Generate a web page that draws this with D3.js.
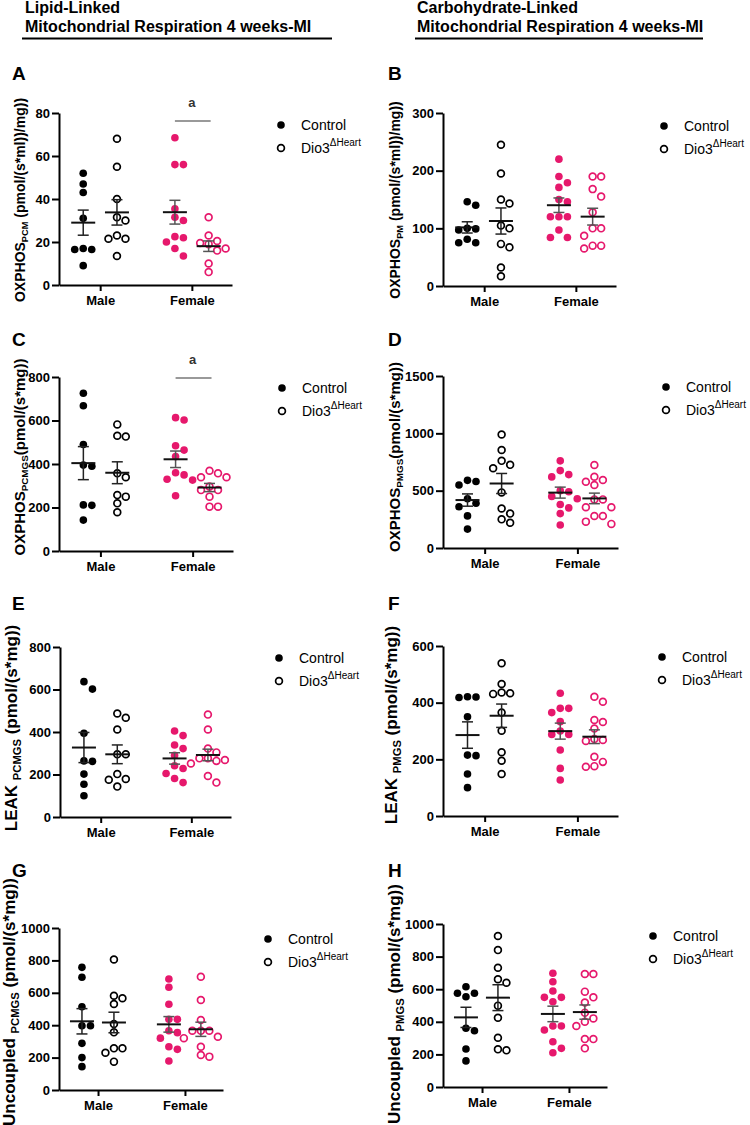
<!DOCTYPE html>
<html>
<head>
<meta charset="utf-8">
<style>
  body { margin: 0; background: #fff; }
  text { font-family: Arial, "Liberation Sans", sans-serif; }
</style>
</head>
<body>
<script src="https://d3js.org/d3.v7.min.js"></script>
<script>

const width = 750;
const height = 1125;
const pink = '#e6186c';

const groupNames = ['Male', 'Female'];
const seriesNames = ['Control', 'Dio3'];

// each panel: [male control, male Dio3, female control, female Dio3]
const dataA = [
  [52, 47, 43, 31, 17, 16.5, 16.5, 9],
  [68, 55, 40, 31.5, 30, 23, 21.5, 21.5, 13.5],
  [68.5, 56, 56, 35.5, 31.5, 30, 22.5, 22, 20, 17, 13.5],
  [31.5, 23, 20.5, 19.5, 19, 17, 16, 10, 6]
];
const dataB = [
  [146, 140, 100, 99, 97, 81, 75, 75],
  [245, 195, 150, 143, 105, 100, 73, 67, 32, 17],
  [220, 190, 179, 171, 150, 146, 120, 120, 120, 97, 84, 84],
  [190, 190, 168, 155, 128, 100, 100, 87, 70, 70, 65]
];
const dataC = [
  [725, 668, 490, 395, 390, 212, 210, 142],
  [582, 530, 526, 357, 339, 257, 250, 219, 178],
  [613, 602, 484, 464, 434, 360, 350, 330, 326, 254],
  [369, 357, 339, 339, 296, 280, 280, 250, 204, 204]
];
const dataD = [
  [590, 580, 550, 430, 390, 360, 280, 165],
  [990, 855, 760, 725, 695, 485, 345, 300, 250, 220],
  [760, 675, 640, 620, 500, 490, 450, 430, 380, 350, 300, 200],
  [724, 622, 593, 578, 549, 424, 424, 355, 355, 279, 279, 230, 210]
];
const dataE = [
  [637, 602, 394, 264, 262, 202, 154, 100],
  [487, 467, 412, 295, 295, 202, 179, 175, 143],
  [405, 383, 339, 322, 290, 241, 228, 205, 181, 162],
  [482, 412, 322, 304, 276, 276, 268, 264, 252, 193, 162]
];
const dataF = [
  [421, 420, 418, 350, 215, 213, 148, 100],
  [539, 466, 436, 433, 431, 365, 301, 225, 195, 148],
  [433, 380, 380, 365, 333, 300, 288, 288, 233, 168, 127],
  [421, 403, 339, 332, 309, 272, 268, 265, 209, 191, 176, 174]
];
const dataG = [
  [757, 696, 514, 397, 397, 288, 200, 144],
  [806, 582, 566, 531, 407, 356, 257, 257, 230, 175],
  [685, 634, 529, 436, 436, 366, 354, 320, 267, 251, 179],
  [699, 556, 432, 366, 366, 366, 329, 320, 267, 216, 206]
];
const dataH = [
  [615, 575, 575, 554, 360, 345, 233, 160],
  [926, 840, 732, 661, 640, 499, 425, 302, 231, 225],
  [698, 646, 589, 550, 550, 523, 374, 374, 350, 278, 237, 210],
  [693, 693, 585, 550, 518, 456, 421, 401, 374, 294, 294, 237]
];

const ticksA = [0, 20, 40, 60, 80];
const ticksB = [0, 100, 200, 300];
const ticksC = [0, 200, 400, 600, 800];
const ticksD = [0, 500, 1000, 1500];
const ticksE = [0, 200, 400, 600, 800];
const ticksF = [0, 200, 400, 600];
const ticksG = [0, 200, 400, 600, 800, 1000];
const ticksH = [0, 200, 400, 600, 800, 1000];

const labelA = ['OXPHOS', 'PCM', ' (pmol/(s*ml))/mg))'];
const labelB = ['OXPHOS', 'PM', ' (pmol/(s*ml))/mg))'];
const labelC = ['OXPHOS', 'PCMGS', '(pmol/(s*mg))'];
const labelD = ['OXPHOS', 'PMGS', '(pmol/(s*mg))'];
const labelE = ['LEAK ', 'PCMGS', ' (pmol/(s*mg))'];
const labelF = ['LEAK ', 'PMGS', ' (pmol/(s*mg))'];
const labelG = ['Uncoupled ', 'PCMGS', ' (pmol/(s*mg))'];
const labelH = ['Uncoupled ', 'PMGS', ' (pmol/(s*mg))'];

// relative positions along x axis
const groupPos = [0.14, 0.335, 0.67, 0.865];
const tickPos = [0.238, 0.768];

const panels = [
  {id: 'A', data: dataA, ticks: ticksA, label: labelA, x0: 59, x1: 232, yTop: 113, yBot: 285, letterY: 80, lx: 281, ly: 125, labX: 25, labY: 200, labSize: 14, sig: [103, 121]},
  {id: 'B', data: dataB, ticks: ticksB, label: labelB, x0: 443, x1: 616, yTop: 113, yBot: 286, letterY: 80, lx: 664, ly: 126, labX: 400, labY: 200, labSize: 14},
  {id: 'C', data: dataC, ticks: ticksC, label: labelC, x0: 59, x1: 233, yTop: 377, yBot: 551, letterY: 346, lx: 282, ly: 388, labX: 25, labY: 457, labSize: 15, sig: [360, 378]},
  {id: 'D', data: dataD, ticks: ticksD, label: labelD, x0: 443, x1: 618, yTop: 376, yBot: 548, letterY: 346, lx: 666, ly: 387, labX: 400, labY: 457, labSize: 15},
  {id: 'E', data: dataE, ticks: ticksE, label: labelE, x0: 60, x1: 231, yTop: 647, yBot: 817, letterY: 610, lx: 279, ly: 658, labX: 17, labY: 728, labSize: 17},
  {id: 'F', data: dataF, ticks: ticksF, label: labelF, x0: 443, x1: 618, yTop: 646, yBot: 816, letterY: 610, lx: 662, ly: 657, labX: 397, labY: 725, labSize: 17},
  {id: 'G', data: dataG, ticks: ticksG, label: labelG, x0: 59, x1: 223, yTop: 928, yBot: 1090, letterY: 877, lx: 268, ly: 939, labX: 15, labY: 1002, labSize: 17},
  {id: 'H', data: dataH, ticks: ticksH, label: labelH, x0: 443, x1: 607, yTop: 924, yBot: 1087, letterY: 877, lx: 653, ly: 936, labX: 400, labY: 1004, labSize: 17}
];

const svg = d3.select('body')
  .append('svg')
  .attr('width', width)
  .attr('height', height);

// column titles
const titles = [
  {x: 25, lines: ['Lipid-Linked', 'Mitochondrial Respiration 4 weeks-MI'], u0: 22, u1: 332},
  {x: 417, lines: ['Carbohydrate-Linked', 'Mitochondrial Respiration 4 weeks-MI'], u0: 415, u1: 703}
];
titles.forEach(t => {
  t.lines.forEach((s, i) => {
    svg.append('text').attr('x', t.x).attr('y', 13 + i * 19)
      .style('font-size', '16px').style('font-weight', 'bold').text(s);
  });
  svg.append('line').attr('x1', t.u0).attr('x2', t.u1).attr('y1', 38.5).attr('y2', 38.5)
    .attr('stroke', '#000').attr('stroke-width', 2);
});

const r = 3.8;

function swarm(values, cx, y) {
  const sorted = values.slice().sort((a, b) => b - a);
  const placed = [];
  const slots = [0, 1, -1, 2, -2, 3, -3];
  sorted.forEach(v => {
    const py = y(v);
    for (const k of slots) {
      const px = cx + k * 8.5;
      if (placed.every(p => Math.hypot(p.x - px, p.y - py) >= 2 * r + 0.5)) {
        placed.push({x: px, y: py, v: v});
        break;
      }
    }
  });
  return placed;
}

panels.forEach(p => {
  const g = svg.append('g');
  const x = d3.scaleLinear().domain([0, 1]).range([p.x0, p.x1]);
  const y = d3.scaleLinear().domain([0, d3.max(p.ticks)]).range([p.yBot, p.yTop]);

  // panel letter
  const letterX = p.x0 < 300 ? 12 : 388;
  g.append('text').attr('x', letterX).attr('y', p.letterY)
    .style('font-size', '19px').style('font-weight', 'bold').text(p.id);

  // axes
  const yAxis = g.append('g').attr('transform', `translate(${p.x0},0)`)
    .call(d3.axisLeft(y).tickValues(p.ticks).tickFormat(d3.format('d'))
      .tickSize(7).tickPadding(2).tickSizeOuter(0));
  const xAxis = g.append('g').attr('transform', `translate(0,${p.yBot})`)
    .call(d3.axisBottom(x).tickValues(tickPos).tickFormat((d, i) => groupNames[i])
      .tickSize(6).tickPadding(5).tickSizeOuter(0));
  [yAxis, xAxis].forEach(a => {
    a.attr('font-size', 13).attr('font-weight', 'bold')
      .attr('font-family', 'Arial, "Liberation Sans", sans-serif');
    a.select('.domain').attr('stroke-width', 2);
    a.selectAll('.tick line').attr('stroke-width', 2);
    a.selectAll('.tick text').attr('fill', '#000');
  });

  // y label
  const lab = g.append('text')
    .attr('transform', `translate(${p.labX},${p.labY}) rotate(-90)`)
    .attr('text-anchor', 'middle')
    .style('font-size', p.labSize + 'px').style('font-weight', 'bold');
  lab.append('tspan').text(p.label[0]);
  lab.append('tspan').attr('dy', p.labSize * 0.22).style('font-size', (p.labSize * 0.66) + 'px').text(p.label[1]);
  lab.append('tspan').attr('dy', -p.labSize * 0.22).text(p.label[2]);

  // points
  p.data.forEach((vals, gi) => {
    const color = gi < 2 ? '#000' : pink;
    const open = gi % 2 === 1;
    const cx = x(groupPos[gi]);
    const pts = swarm(vals, cx, y);
    g.selectAll(null).data(pts).enter().append('circle')
      .attr('cx', d => d.x).attr('cy', d => d.y)
      .attr('r', open ? r - 0.4 : r)
      .attr('fill', open ? 'none' : color)
      .attr('stroke', open ? color : 'none')
      .attr('stroke-width', open ? 1.7 : 0);

    const mean = d3.mean(vals);
    const sem = d3.deviation(vals) / Math.sqrt(vals.length);
    const errColor = gi < 2 ? '#222' : '#555';
    g.append('line').attr('x1', cx).attr('x2', cx).attr('y1', y(mean - sem)).attr('y2', y(mean + sem))
      .attr('stroke', errColor).attr('stroke-width', 1.5);
    [mean - sem, mean + sem].forEach(v => {
      g.append('line').attr('x1', cx - 5.5).attr('x2', cx + 5.5).attr('y1', y(v)).attr('y2', y(v))
        .attr('stroke', errColor).attr('stroke-width', 1.5);
    });
    g.append('line').attr('x1', cx - 12).attr('x2', cx + 12).attr('y1', y(mean)).attr('y2', y(mean))
      .attr('stroke', '#111').attr('stroke-width', 2);
  });

  // significance
  if (p.sig) {
    const c0 = x(groupPos[2]), c1 = x(groupPos[3]);
    g.append('text').attr('x', (c0 + c1) / 2).attr('y', p.sig[0] + 4).attr('text-anchor', 'middle')
      .style('font-size', '13px').style('font-weight', 'bold').attr('fill', '#333').text('a');
    g.append('line').attr('x1', c0).attr('x2', c1 + 2).attr('y1', p.sig[1]).attr('y2', p.sig[1])
      .attr('stroke', '#777').attr('stroke-width', 1.5);
  }

  // legend
  g.append('circle').attr('cx', p.lx).attr('cy', p.ly).attr('r', r).attr('fill', '#000');
  g.append('circle').attr('cx', p.lx).attr('cy', p.ly + 23).attr('r', r - 0.4)
    .attr('fill', 'none').attr('stroke', '#000').attr('stroke-width', 1.7);
  g.append('text').attr('x', p.lx + 20).attr('y', p.ly + 5).style('font-size', '14px').text(seriesNames[0]);
  const t2 = g.append('text').attr('x', p.lx + 20).attr('y', p.ly + 28).style('font-size', '14px');
  t2.append('tspan').text(seriesNames[1]);
  t2.append('tspan').attr('dy', -7).style('font-size', '10px').text('ΔHeart');
});

</script>
</body>
</html>
